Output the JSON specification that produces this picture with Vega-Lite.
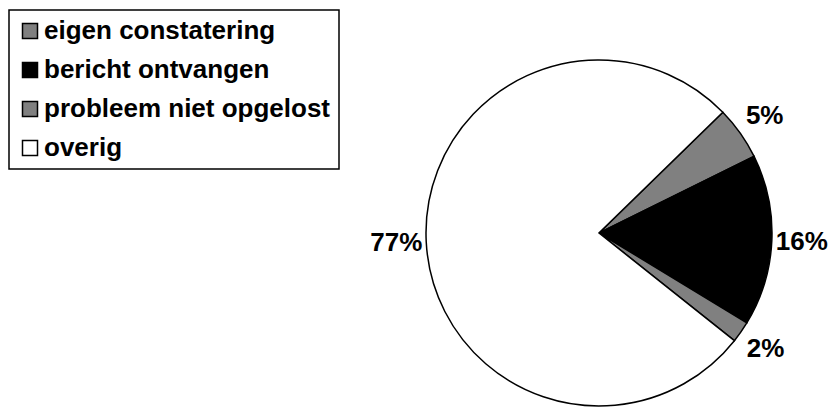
{
  "$schema": "https://vega.github.io/schema/vega-lite/v6.json",
  "autosize": "none",
  "width": 346,
  "height": 346,
  "padding": {"left": 426, "top": 60, "right": 67, "bottom": 1},
  "background": "white",
  "data": {
    "values": [
      {"categorie": "eigen constatering", "waarde": 5, "label": "5%", "volgorde": 1},
      {"categorie": "bericht ontvangen", "waarde": 16, "label": "16%", "volgorde": 2},
      {"categorie": "probleem niet opgelost", "waarde": 2, "label": "2%", "volgorde": 3},
      {"categorie": "overig", "waarde": 77, "label": "77%", "volgorde": 4}
    ]
  },
  "encoding": {
    "theta": {"field": "waarde", "type": "quantitative", "stack": true, "scale": {"range": [0.7976, 7.0808]}},
    "order": {"field": "volgorde", "type": "quantitative"}
  },
  "layer": [
    {
      "mark": {"type": "arc", "stroke": "black", "strokeWidth": 1.5, "strokeJoin": "miter"},
      "encoding": {
        "fill": {
          "field": "categorie",
          "type": "nominal",
          "scale": {
            "domain": ["eigen constatering", "bericht ontvangen", "probleem niet opgelost", "overig"],
            "range": ["#808080", "#000000", "#808080", "#ffffff"]
          },
          "legend": {
            "title": null,
            "orient": "none",
            "legendX": -417,
            "legendY": -50,
            "strokeColor": "black",
            "padding": 8,
            "symbolType": "square",
            "symbolSize": 225,
            "symbolStrokeColor": "black",
            "symbolStrokeWidth": 1.5,
            "labelFont": "Liberation Sans",
            "labelFontSize": 26,
            "labelFontWeight": "bold",
            "labelColor": "black",
            "labelOffset": 1,
            "labelLimit": 500,
            "rowPadding": 13,
            "encode": {"legend": {"update": {"strokeWidth": {"value": 1.5}}}}
          }
        }
      }
    },
    {
      "mark": {"type": "text", "radius": 203, "font": "Liberation Sans", "fontSize": 26, "fontWeight": "bold", "color": "black"},
      "encoding": {
        "text": {"field": "label", "type": "nominal"}
      }
    }
  ]
}
